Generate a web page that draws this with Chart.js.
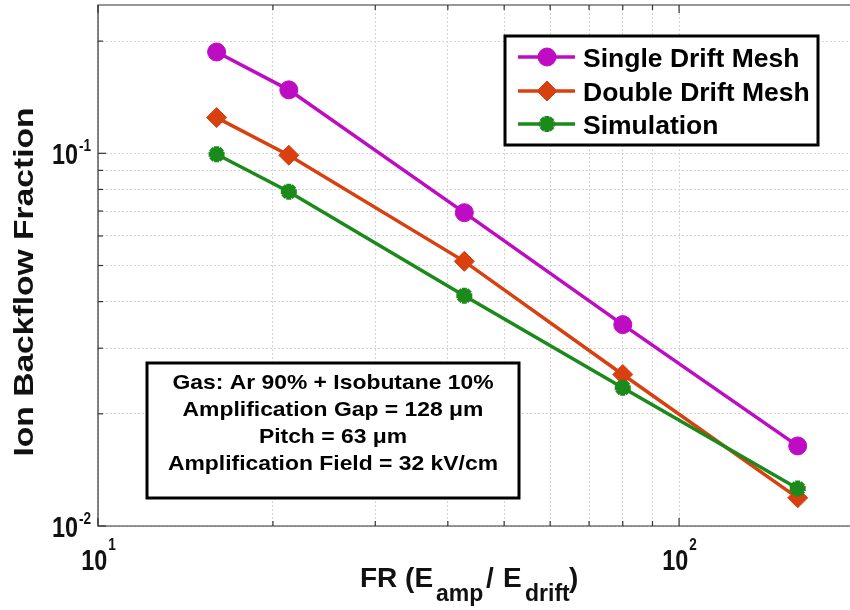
<!DOCTYPE html>
<html>
<head>
<meta charset="utf-8">
<script src="https://cdn.jsdelivr.net/npm/chart.js"></script>
<style>
  html, body { margin: 0; padding: 0; background: #fff; overflow: hidden; }
  #wrap { width: 862px; height: 610px; }
</style>
</head>
<body>
<div id="wrap"><canvas id="ibfChart"></canvas></div>
<script>
// datos
const fieldRatio = [16, 21.3, 42.7, 80, 160];
const singleMesh = [0.187, 0.148, 0.0693, 0.0347, 0.0164];
const doubleMesh = [0.1247, 0.0988, 0.0513, 0.0255, 0.0119];
const simulation = [0.0994, 0.0789, 0.0415, 0.0235, 0.0126];

const seriesNames = ["Single Drift Mesh", "Double Drift Mesh", "Simulation"];
const xGridTicks = [10, 20, 30, 40, 50, 60, 70, 80, 90, 100, 200];
const yGridTicks = [0.01, 0.02, 0.03, 0.04, 0.05, 0.06, 0.07, 0.08, 0.09, 0.1, 0.2];
const xLabelTicks = [10, 100];
const yLabelTicks = [0.01, 0.1];
const infoLines = [
  "Gas: Ar 90% + Isobutane 10%",
  "Amplification Gap = 128 \u03BCm",
  "Pitch = 63 \u03BCm",
  "Amplification Field = 32 kV/cm",
];

const FONT = "'Liberation Sans', Arial, Helvetica, sans-serif";

function pts(ys) {
  return fieldRatio.map((x, i) => ({ x: x, y: ys[i] }));
}

// texto con escala horizontal opcional
function drawText(ctx, txt, x, y, size, sx, align) {
  ctx.save();
  ctx.font = "bold " + size + "px " + FONT;
  ctx.textBaseline = "alphabetic";
  ctx.textAlign = "left";
  const w = ctx.measureText(txt).width * sx;
  let x0 = x;
  if (align === "center") x0 = x - w / 2;
  if (align === "right") x0 = x - w;
  ctx.translate(x0, y);
  ctx.scale(sx, 1);
  ctx.fillText(txt, 0, 0);
  ctx.restore();
  return w;
}

function textWidth(ctx, txt, size, sx) {
  ctx.save();
  ctx.font = "bold " + size + "px " + FONT;
  const w = ctx.measureText(txt).width * sx;
  ctx.restore();
  return w;
}

function drawMarker(ctx, ds, x, y) {
  if (Chart.helpers && Chart.helpers.drawPoint) {
    ctx.save();
    ctx.fillStyle = ds.pointBackgroundColor;
    ctx.strokeStyle = ds.pointBorderColor;
    ctx.lineWidth = ds.pointBorderWidth;
    Chart.helpers.drawPoint(ctx, {
      pointStyle: ds.pointStyle,
      radius: ds.pointRadius,
      rotation: 0,
      borderWidth: ds.pointBorderWidth,
    }, x, y);
    ctx.restore();
  }
}

const decoraciones = {
  id: "decoraciones",
  afterDraw(chart) {
    const { ctx, chartArea: area, scales } = chart;
    const xs = scales.x, ys = scales.y;
    ctx.save();

    // marco
    ctx.strokeStyle = "#333";
    ctx.lineWidth = 1.2;
    ctx.beginPath();
    ctx.moveTo(area.right + 2, area.top);
    ctx.lineTo(area.left, area.top);
    ctx.lineTo(area.left, area.bottom);
    ctx.lineTo(area.right + 2, area.bottom);
    ctx.stroke();

    // marcas de ticks hacia adentro
    xGridTicks.forEach((v) => {
      const px = xs.getPixelForValue(v);
      const len = Number.isInteger(Math.log10(v)) ? 8 : 5;
      ctx.beginPath();
      ctx.moveTo(px, area.bottom); ctx.lineTo(px, area.bottom - len);
      ctx.moveTo(px, area.top); ctx.lineTo(px, area.top + len);
      ctx.stroke();
    });
    yGridTicks.forEach((v) => {
      const py = ys.getPixelForValue(v);
      const len = Number.isInteger(Math.round(Math.log10(v) * 1000) / 1000) ? 8 : 5;
      ctx.beginPath();
      ctx.moveTo(area.left, py); ctx.lineTo(area.left + len, py);
      ctx.stroke();
    });

    ctx.fillStyle = "#111";
    // etiquetas eje x
    xLabelTicks.forEach((v) => {
      const px = xs.getPixelForValue(v);
      const exp = String(Math.round(Math.log10(v)));
      const wBase = textWidth(ctx, "10", 30, 0.78);
      const wExp = textWidth(ctx, exp, 17, 0.8);
      const x0 = px - (wBase + wExp) / 2;
      drawText(ctx, "10", x0, 570, 30, 0.78, "left");
      drawText(ctx, exp, x0 + wBase + 1, 550, 17, 0.8, "left");
    });
    // etiquetas eje y
    yLabelTicks.forEach((v) => {
      const py = ys.getPixelForValue(v);
      const exp = String(Math.round(Math.log10(v)));
      const wExp = textWidth(ctx, exp, 17, 0.8);
      const right = 91;
      drawText(ctx, exp, right - wExp, py - 2, 17, 0.8, "left");
      drawText(ctx, "10", right - wExp - 1, py + 11, 30, 0.78, "right");
    });

    // titulo eje y
    ctx.save();
    ctx.translate(33, 282);
    ctx.rotate(-Math.PI / 2);
    drawText(ctx, "Ion Backflow Fraction", 0, 0, 28, 1.2, "center");
    ctx.restore();

    // titulo eje x con subindices
    const base = 587, sub = 601;
    drawText(ctx, "FR (E", 360, base, 28, 1, "left");
    drawText(ctx, "amp", 436, sub, 23, 1, "left");
    drawText(ctx, "/", 486, base, 28, 1, "left");
    drawText(ctx, "E", 503, base, 28, 1, "left");
    drawText(ctx, "drift", 525, sub, 23, 1, "left");
    drawText(ctx, ")", 569, base, 28, 1, "left");

    // leyenda
    ctx.fillStyle = "#fff";
    ctx.fillRect(505, 36, 313, 109);
    ctx.strokeStyle = "#000";
    ctx.lineWidth = 3;
    ctx.strokeRect(505, 36, 313, 109);
    const rows = [57, 91, 124];
    chart.data.datasets.forEach((ds, i) => {
      const y = rows[i];
      ctx.strokeStyle = ds.borderColor;
      ctx.lineWidth = ds.borderWidth;
      ctx.beginPath();
      ctx.moveTo(518, y); ctx.lineTo(575, y);
      ctx.stroke();
      drawMarker(ctx, ds, 547, y);
      ctx.fillStyle = "#000";
      drawText(ctx, ds.label, 583, y + 10, 26.5, 1, "left");
    });

    // cuadro de informacion
    ctx.fillStyle = "#fff";
    ctx.fillRect(147, 363, 372, 135);
    ctx.strokeStyle = "#000";
    ctx.lineWidth = 3;
    ctx.strokeRect(147, 363, 372, 135);
    ctx.fillStyle = "#000";
    const baselines = [389, 416, 443, 470];
    infoLines.forEach((t, i) => {
      drawText(ctx, t, 333, baselines[i], 21, 1.09, "center");
    });

    ctx.restore();
  },
};

const ctx = document.getElementById("ibfChart").getContext("2d");

new Chart(ctx, {
  type: "scatter",
  data: {
    datasets: [
      {
        label: seriesNames[0],
        data: pts(singleMesh),
        showLine: true,
        borderColor: "#BE0BC4",
        backgroundColor: "#BE0BC4",
        borderWidth: 3.5,
        pointStyle: "circle",
        pointRadius: 9,
        pointBackgroundColor: "#BE0BC4",
        pointBorderColor: "#BE0BC4",
        pointBorderWidth: 1,
        order: 2,
      },
      {
        label: seriesNames[1],
        data: pts(doubleMesh),
        showLine: true,
        borderColor: "#D8400F",
        backgroundColor: "#D8400F",
        borderWidth: 3.5,
        pointStyle: "rectRot",
        pointRadius: 10,
        pointBackgroundColor: "#D8400F",
        pointBorderColor: "#D8400F",
        pointBorderWidth: 1,
        order: 1,
      },
      {
        label: seriesNames[2],
        data: pts(simulation),
        showLine: true,
        borderColor: "#1A8A1A",
        backgroundColor: "#1A8A1A",
        borderWidth: 3.5,
        pointStyle: "star",
        pointRadius: 8,
        pointBackgroundColor: "#1A8A1A",
        pointBorderColor: "#1A8A1A",
        pointBorderWidth: 5,
        order: 0,
      },
    ],
  },
  options: {
    responsive: true,
    maintainAspectRatio: false,
    animation: false,
    layout: { autoPadding: false, padding: { top: 5, right: 8, left: 0, bottom: 0 } },
    scales: {
      x: {
        type: "logarithmic",
        min: 10,
        max: 200,
        afterBuildTicks: (scale) => { scale.ticks = xGridTicks.map((v) => ({ value: v })); },
        afterFit: (scale) => { scale.height = 84; },
        ticks: { display: false },
        grid: { color: "#d4d4d4", lineWidth: 1, drawTicks: false },
        border: { display: false, dash: [2, 2] },
      },
      y: {
        type: "logarithmic",
        min: 0.01,
        max: 0.25,
        afterBuildTicks: (scale) => { scale.ticks = yGridTicks.map((v) => ({ value: v })); },
        afterFit: (scale) => { scale.width = 98; },
        ticks: { display: false },
        grid: { color: "#d4d4d4", lineWidth: 1, drawTicks: false },
        border: { display: false, dash: [2, 2] },
      },
    },
    plugins: {
      legend: { display: false },
      tooltip: { enabled: false },
    },
  },
  plugins: [decoraciones],
});
</script>
</body>
</html>
